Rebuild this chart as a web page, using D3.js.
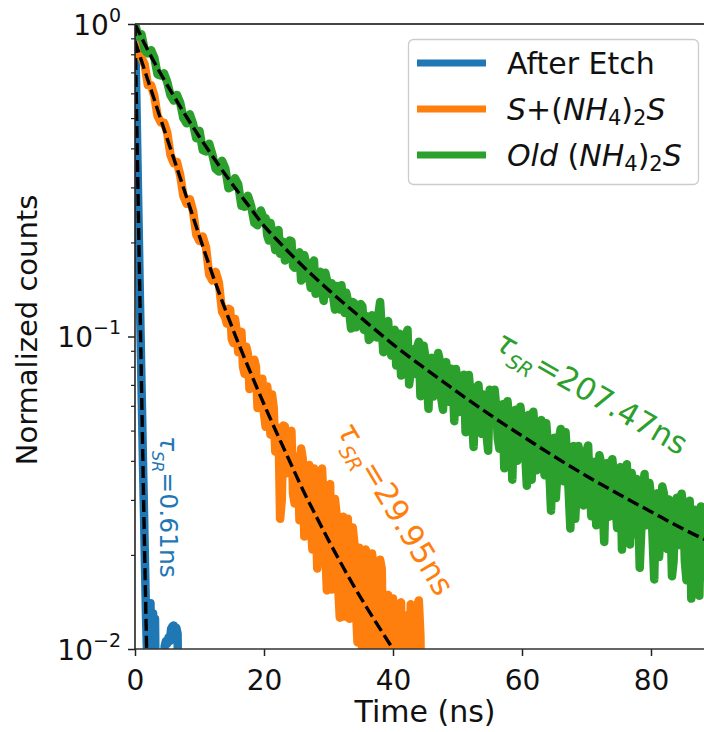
<!DOCTYPE html>
<html><head><meta charset="utf-8">
<script src="https://cdn.jsdelivr.net/npm/d3@7"></script>
<style>
body{margin:0;background:#fff}
svg{display:block}
text{font-family:"DejaVu Sans",sans-serif}
</style>
</head><body>
<svg id="c" width="704" height="732"></svg>
<script>
// ---- data ----
const xTicks = [0, 20, 40, 60, 80];
const yTicks = [1, 0.1, 0.01];
const yTickExp = ["0", "\u22121", "\u22122"];
const yMinor = [0.02,0.03,0.04,0.05,0.06,0.07,0.08,0.09,0.2,0.3,0.4,0.5,0.6,0.7,0.8,0.9];
const seriesNames = ["After Etch", "S+(NH4)2S", "Old (NH4)2S"];
const seriesColors = ["#1f77b4", "#ff7f0e", "#2ca02c"];
const tauLabels = ["0.61ns", "29.95ns", "207.47ns"];

const blueTime = [0,0.1,0.2,0.3,0.4,0.5,0.6,0.7,0.8,0.9,1.0,1.1,1.2,1.3,1.4,1.5,1.6,1.7,1.8,1.9,2.0,2.1,2.2,2.3,2.4,2.5,2.6,2.7,2.8,2.9,3.0,3.1,3.3,4.4,4.6,4.8,5.0,5.2,5.4,5.6,5.8,6.0,6.2,6.4,6.6,6.8];
const blueCounts = [1.0,0.76,0.59,0.45,0.345,0.262,0.205,0.155,0.12,0.092,0.071,0.056,0.043,0.034,0.027,0.021,0.0165,0.013,0.0108,0.0092,0.0124,0.0082,0.0133,0.0088,0.0140,0.0086,0.0122,0.0078,0.0130,0.0084,0.0118,0.0125,0.0050,0.0050,0.0102,0.0106,0.0104,0.0109,0.0106,0.0116,0.0118,0.0119,0.0115,0.0117,0.0112,0.0050];

const orangeTime = d3.range(0, 14, 1).concat(d3.range(14, 44.51, 0.5));
const orangeCounts = [0.881,0.780,0.638,0.588,0.484,0.449,0.359,0.329,0.266,0.252,0.202,0.193,0.151,0.149,0.115,
  0.1227,0.0982,0.1138,0.0891,0.1035,0.0759,0.0881,0.0724,0.0843,0.0590,
  0.0719,0.0566,0.0692,0.0485,0.0593,0.0447,0.0261,0.0519,0.0365,0.0490,
  0.0314,0.0412,0.0258,0.0407,0.0262,0.0388,0.0208,0.0322,0.0203,0.0378,
  0.0208,0.0315,0.0155,0.0302,0.0159,0.0247,0.0127,0.0261,0.0137,0.0219,
  0.0105,0.0184,0.0079,0.0200,0.0099,0.0177,0.0060,0.0193,0.0089,0.0145,
  0.0058,0.0145,0.0070,0.0138,0.0052,0.0128,0.0060,0.0136,0.0090,0.0143,0.0040];
// in-between samples of the same orange trace
const orangeTimeExtra = d3.range(0.5, 14, 1).concat(d3.range(14.25, 44.3, 0.5));
const orangeCountsExtra = [0.793,0.743,0.637,0.508,0.483,0.381,0.362,0.282,0.275,0.212,0.209,0.158,0.161,0.120,
  0.110,0.122,0.0953,0.105,
  0.0970,0.0798,0.0927,0.0679,0.0791,0.0800,0.0615,0.0733,
  0.0514,0.0614,0.0652,0.0428,0.0511,0.0299,0.0516,0.0390,
  0.0499,0.0292,0.0392,0.0438,0.0229,0.0346,0.0256,0.0378,
  0.0181,0.0370,0.0287,0.0154,0.0337,0.0190,0.0269,0.0126,
  0.0265,0.0197,0.0125,0.0245,0.0135,0.0211,0.0090,0.0208,
  0.0110,0.0202,0.0074,0.0163,0.0181,0.0072,0.0149,0.0081,
  0.0128,0.0062,0.0141,0.0118,0.0055,0.0139,0.0072,0.0137,0.0110];

const greenTime = d3.range(0, 20, 1).concat(d3.range(20, 88.51, 0.5));
const greenCounts = [1.000,0.927,0.805,0.780,0.684,0.652,0.569,0.560,0.481,0.479,0.455,0.391,0.382,0.337,0.345,0.302,0.307,0.260,0.262,0.227,0.237,
  0.211,0.231,0.205,0.214,0.184,0.201,0.181,0.203,0.168,0.180,
  0.186,0.153,0.172,0.155,0.172,0.137,0.157,0.140,0.160,0.137,
  0.148,0.122,0.137,0.146,0.119,0.130,0.106,0.128,0.113,0.127,
  0.105,0.116,0.0986,0.114,0.0993,0.129,0.0891,0.108,0.0897,0.101,
  0.0807,0.102,0.0855,0.101,0.0702,0.0908,0.0759,0.0962,0.0750,0.0865,
  0.0587,0.0855,0.0714,0.0885,0.0630,0.0745,0.0652,0.0789,0.0536,0.0728,
  0.0596,0.0755,0.0603,0.0665,0.0443,0.0690,0.0552,0.0652,0.0486,0.0676,
  0.0528,0.0597,0.0437,0.0607,0.0474,0.0548,0.0348,0.0583,0.0456,0.0540,
  0.0422,0.0561,0.0348,0.0497,0.0416,0.0540,0.0360,0.0456,0.0277,0.0474,
  0.0372,0.0506,0.0344,0.0408,0.0243,0.0446,0.0333,0.0413,0.0288,0.0431,
  0.0330,0.0382,0.0249,0.0417,0.0291,0.0354,0.0265,0.0405,0.0289,0.0351,
  0.0208,0.0350,0.0268,0.0366,0.0233,0.0310,0.0243,0.0363,0.0260,0.0308,
  0.0167,0.0315,0.0236,0.0314,0.0209,0.0279,0.0191,0.0305,0.0223,0.0278,
  0.0166,0.0298,0.0204,0.0259,0.0148,0.0272,0.0199];
// in-between samples of the same green trace
const greenTimeExtra = d3.range(0.5, 20, 1).concat(d3.range(20.25, 88.3, 0.5));
const greenCountsExtra = [0.920,0.826,0.824,0.689,0.695,0.592,0.593,0.500,0.514,0.431,0.395,0.414,0.344,0.365,0.298,0.321,0.262,0.282,0.231,0.253,
  0.239,0.203,0.217,0.189,0.219,0.192,0.175,0.196,0.202,0.166,
  0.182,0.151,0.182,0.166,0.143,0.175,0.145,0.161,0.130,0.152,
  0.146,0.133,0.145,0.122,0.131,0.138,0.118,0.129,0.107,0.121,
  0.125,0.109,0.0975,0.117,0.103,0.118,0.106,0.0925,0.112,0.0869,
  0.105,0.0940,0.0750,0.0973,0.105,0.0780,0.0802,0.0925,0.0644,0.0935,
  0.0729,0.0824,0.0643,0.0778,0.0838,0.0583,0.0828,0.0618,0.0729,0.0787,
  0.0573,0.0678,0.0494,0.0753,0.0548,0.0664,0.0700,0.0488,0.0604,0.0431,
  0.0627,0.0676,0.0471,0.0570,0.0379,0.0621,0.0485,0.0561,0.0400,0.0596,
  0.0446,0.0333,0.0519,0.0574,0.0373,0.0508,0.0416,0.0528,0.0368,0.0456,
  0.0304,0.0475,0.0381,0.0494,0.0315,0.0429,0.0261,0.0446,0.0383,0.0307,
  0.0448,0.0266,0.0397,0.0311,0.0395,0.0220,0.0394,0.0302,0.0358,0.0244,
  0.0382,0.0267,0.0390,0.0216,0.0324,0.0350,0.0182,0.0326,0.0249,0.0340,
  0.0227,0.0303,0.0197,0.0331,0.0242,0.0301,0.0171,0.0287,0.0215,0.0314,
  0.0191,0.0261,0.0145,0.0279,0.0209,0.0286,0.0170];

const blueFitTime = [0, 0.5, 1.0, 1.5, 1.8, 2.0];
const blueFitCounts = [1.0, 0.263, 0.0708, 0.0200, 0.0100, 0.0063];
const orangeFitTime = [0,2,4,6,8,10,12,14,16,18,20,22,24,26,28,30,32,34,36,38,40,41];
const orangeFitCounts = [0.881,0.661,0.495,0.372,0.279,0.209,0.158,0.122,0.0955,0.0759,0.0607,0.0490,0.0398,0.0324,0.0268,0.0223,0.0187,0.0158,0.0135,0.0116,0.0100,0.0093];
const greenFitTime = [0,2,4,6,8,10,12,14,16,18,20,22,25,30,35,40,45,50,55,60,65,70,75,80,85,90];
const greenFitCounts = [1.0,0.824,0.692,0.589,0.504,0.435,0.378,0.330,0.290,0.256,0.226,0.204,0.176,0.141,0.115,0.0944,0.0789,0.0664,0.0562,0.0481,0.0413,0.0358,0.0313,0.0275,0.0242,0.0216];

// ---- layout ----
const L = 135, T = 24, B = 649, R = 715.5;
const svg = d3.select("#c");
const x = d3.scaleLinear().domain([0, 90]).range([L, R]);
const y = d3.scaleLog().domain([0.01, 1]).range([B, T]);

svg.append("defs").append("clipPath").attr("id", "plotclip")
  .append("rect").attr("x", L).attr("y", T).attr("width", R - L).attr("height", B - T);

const zip = (ts, vs) => ts.map((t, i) => [t, vs[i]]);
const merge = (a, b) => a.concat(b).sort((p, q) => p[0] - q[0]);
const line = d3.line().x(d => x(d[0])).y(d => y(d[1]));
const fitLine = d3.line().x(d => x(d[0])).y(d => y(d[1])).curve(d3.curveMonotoneX);

const plot = svg.append("g").attr("clip-path", "url(#plotclip)");
const dataSets = [
  zip(blueTime, blueCounts),
  merge(zip(orangeTime, orangeCounts), zip(orangeTimeExtra, orangeCountsExtra)),
  merge(zip(greenTime, greenCounts), zip(greenTimeExtra, greenCountsExtra))
];
const fitSets = [zip(blueFitTime, blueFitCounts), zip(orangeFitTime, orangeFitCounts), zip(greenFitTime, greenFitCounts)];

dataSets.forEach((ds, i) => {
  plot.append("path").attr("d", line(ds)).attr("fill", "none")
    .attr("stroke", seriesColors[i]).attr("stroke-width", 8.5)
    .attr("stroke-linejoin", "round").attr("stroke-linecap", "butt");
});
fitSets.forEach(ds => {
  plot.append("path").attr("d", fitLine(ds)).attr("fill", "none")
    .attr("stroke", "#000").attr("stroke-width", 3.4)
    .attr("stroke-dasharray", "12,5");
});

// ---- axes ----
const gx = svg.append("g").attr("transform", `translate(0,${B})`)
  .call(d3.axisBottom(x).tickValues(xTicks).tickSize(7).tickSizeOuter(0).tickPadding(14));
gx.select(".domain").remove();
gx.selectAll(".tick line").attr("stroke", "#222").attr("stroke-width", 1.5);
gx.selectAll(".tick text").style("font-size", "28px").attr("fill", "#111").attr("font-family", "DejaVu Sans");

const gyMinor = svg.append("g").attr("transform", `translate(${L},0)`)
  .call(d3.axisLeft(y).tickValues(yMinor).tickSize(4).tickFormat(""));
gyMinor.select(".domain").remove();
gyMinor.selectAll(".tick line").attr("stroke", "#222").attr("stroke-width", 1.2);

const gy = svg.append("g").attr("transform", `translate(${L},0)`)
  .call(d3.axisLeft(y).tickValues(yTicks).tickSize(7).tickFormat(""));
gy.select(".domain").remove();
gy.selectAll(".tick line").attr("stroke", "#222").attr("stroke-width", 1.5);
gy.selectAll(".tick").each(function(d, i) {
  const t = d3.select(this).append("text").attr("x", -14).attr("y", 10)
    .attr("text-anchor", "end").attr("fill", "#111").style("font-size", "28px");
  t.append("tspan").text("10");
  t.append("tspan").attr("dy", -13).style("font-size", "19px").text(yTickExp[i]);
});

// spines
svg.append("line").attr("x1", L).attr("x2", 704).attr("y1", T).attr("y2", T).attr("stroke", "#444").attr("stroke-width", 1.8);
svg.append("line").attr("x1", L).attr("x2", 704).attr("y1", B).attr("y2", B).attr("stroke", "#333").attr("stroke-width", 1.6);
svg.append("line").attr("x1", L).attr("x2", L).attr("y1", T).attr("y2", B).attr("stroke", "#222").attr("stroke-width", 1.6);

// axis labels
svg.append("text").attr("x", 425).attr("y", 722).attr("text-anchor", "middle")
  .style("font-size", "30px").attr("fill", "#111").text("Time (ns)");
svg.append("text").attr("transform", "translate(37,330) rotate(-90)").attr("text-anchor", "middle")
  .style("font-size", "29px").attr("fill", "#111").text("Normalized counts");

// ---- annotations ----
function annot(px, py, angle, color, size, subSize, shift, value) {
  const t = svg.append("text").attr("transform", `translate(${px},${py}) rotate(${angle})`)
    .attr("fill", color).style("font-size", size + "px");
  t.append("tspan").style("font-style", "italic").text("\u03C4");
  t.append("tspan").style("font-style", "italic").style("font-size", subSize + "px").attr("dy", shift).text("SR");
  t.append("tspan").attr("dy", -shift).text("=" + value);
}
annot(160, 436, 90, seriesColors[0], 25, 16, 8, tauLabels[0]);
annot(336, 430, 59, seriesColors[1], 31, 20, 9, tauLabels[1]);
annot(493, 348, 30, seriesColors[2], 31, 20, 9, tauLabels[2]);

// ---- legend ----
const lg = svg.append("g");
lg.append("rect").attr("x", 408.5).attr("y", 39.5).attr("width", 290).attr("height", 145)
  .attr("rx", 5).attr("fill", "#fff").attr("fill-opacity", 0.85).attr("stroke", "#ccc").attr("stroke-width", 1.3);
const rowsY = [63, 109, 155];
rowsY.forEach((ry, i) => {
  lg.append("line").attr("x1", 417).attr("x2", 486).attr("y1", ry).attr("y2", ry)
    .attr("stroke", seriesColors[i]).attr("stroke-width", 7);
});
function legText(ry) {
  return lg.append("text").attr("x", 507).attr("y", ry + 11).attr("fill", "#111").style("font-size", "30px");
}
legText(rowsY[0]).text(seriesNames[0]);
function nh4(t) {
  t.append("tspan").text("(");
  t.append("tspan").style("font-style", "italic").text("NH");
  t.append("tspan").attr("dy", 5).style("font-size", "21px").text("4");
  t.append("tspan").attr("dy", -5).text(")");
  t.append("tspan").attr("dy", 5).style("font-size", "21px").text("2");
  t.append("tspan").attr("dy", -5).style("font-style", "italic").text("S");
}
const t2 = legText(rowsY[1]);
t2.append("tspan").style("font-style", "italic").text("S");
t2.append("tspan").text("+");
nh4(t2);
const t3 = legText(rowsY[2]);
t3.append("tspan").style("font-style", "italic").text("Old");
t3.append("tspan").text("\u00A0");
nh4(t3);
</script>
</body></html>
